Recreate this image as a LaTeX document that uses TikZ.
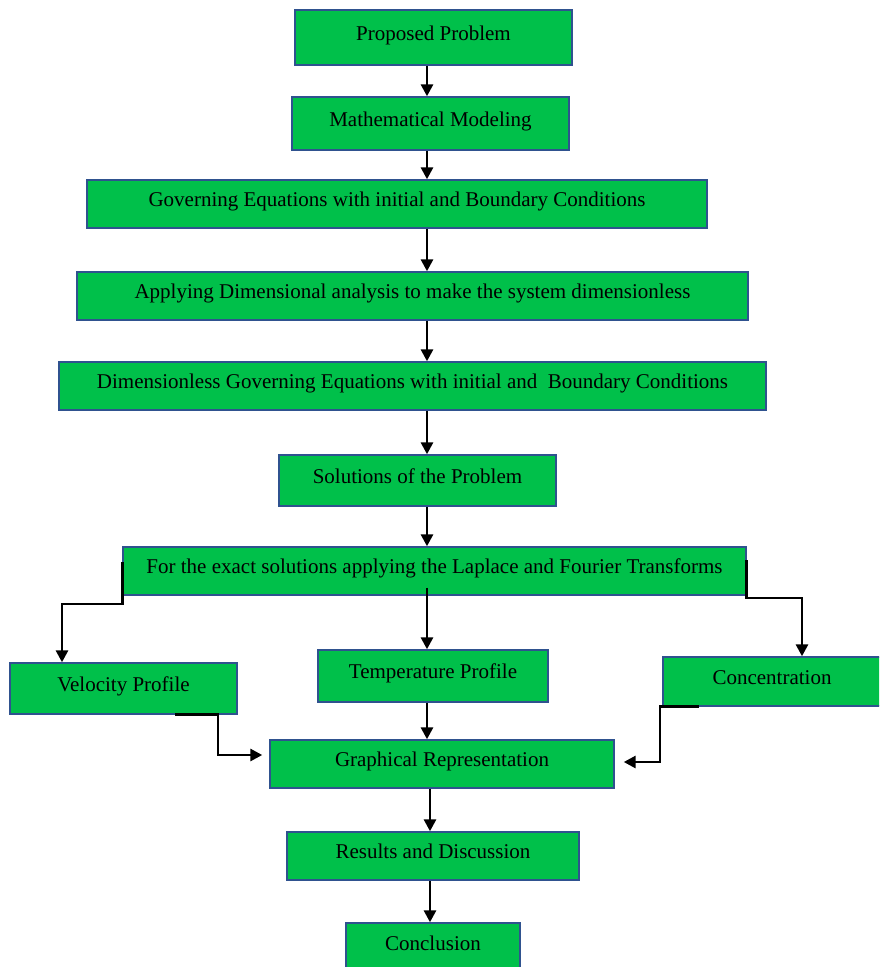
\documentclass[tikz,border=0pt]{standalone}
\usepackage{fontspec}
\setmainfont{Liberation Serif}
\usetikzlibrary{arrows.meta,calc}
\definecolor{boxgreen}{RGB}{0,192,74}
\definecolor{boxedge}{RGB}{47,82,143}
\begin{document}
\begin{tikzpicture}[x=1pt,y=-1pt,
  box/.style={draw=boxedge,line width=1.4pt,fill=boxgreen,inner sep=0pt,
    font=\fontsize{21}{24}\selectfont,text=black,text height=14pt,text depth=9pt},
  arr/.style={draw=black,line width=2.8pt,-{Triangle[width=12pt,length=12pt]}}]
\fill[white] (0,0) rectangle (879,967);
\useasboundingbox (0,0) rectangle (879,967);
\clip (0,0) rectangle (879,967);
\coordinate (cx) at (427,0);
\coordinate (cy) at (430,0);
\node[box,minimum width=277,minimum height=55] (p1) at (433.5,37.5) {Proposed Problem};
\node[box,minimum width=277,minimum height=53] (p2) at (430.5,123.5) {Mathematical Modeling};
\node[box,minimum width=620,minimum height=48] (p3) at (397,204) {Governing Equations with initial and Boundary Conditions};
\node[box,minimum width=671,minimum height=48] (p4) at (412.5,296) {Applying Dimensional analysis to make the system dimensionless};
\node[box,minimum width=707,minimum height=48] (p5) at (412.5,386) {Dimensionless Governing Equations with initial and\ \ Boundary Conditions};
\node[box,minimum width=277,minimum height=51] (p6) at (417.5,480.5) {Solutions of the Problem};
\node[box,minimum width=623,minimum height=48] (p7) at (434.5,571) {For the exact solutions applying the Laplace and Fourier Transforms};
\node[box,minimum width=227,minimum height=51] (vel) at (123.5,688.5) {Velocity Profile};
\node[box,minimum width=230,minimum height=52] (tem) at (433,676) {Temperature Profile};
\node[box,minimum width=218,minimum height=49] (con) at (772,681.5) {Concentration};
\node[box,minimum width=344,minimum height=48] (gra) at (442,764) {Graphical Representation};
\node[box,minimum width=292,minimum height=48] (res) at (433,856) {Results and Discussion};
\node[box,minimum width=174,minimum height=50] (conc) at (433,948) {Conclusion};
% vertical arrows
\draw[arr] (p1.south -| cx) -- (p2.north -| cx);
\draw[arr] (p2.south -| cx) -- (p3.north -| cx);
\draw[arr] (p3.south -| cx) -- (p4.north -| cx);
\draw[arr] (p4.south -| cx) -- (p5.north -| cx);
\draw[arr] (p5.south -| cx) -- (p6.north -| cx);
\draw[arr] (p6.south -| cx) -- (p7.north -| cx);
\draw[arr] ([yshift=8]p7.south -| cx) -- (tem.north -| cx);
\draw[arr] (tem.south -| cx) -- (gra.north -| cx);
\draw[arr] (gra.south -| cy) -- (res.north -| cy);
\draw[arr] (res.south -| cy) -- (conc.north -| cy);
% branches
\draw[arr] ([yshift=9]p7.west) -- ++(0,42) -| ([xshift=-61.5]vel.north);
\draw[arr] ([yshift=11]p7.east) -- ++(0,38) -| ([xshift=30]con.north);
\draw[arr] ([xshift=51.5]vel.south) -- ++(43,0) |- ([xshift=-7,yshift=9]gra.west);
\draw[arr] ([xshift=-73]con.south) -- ++(-39,0) |- ([xshift=9,yshift=2]gra.east);
\end{tikzpicture}
\end{document}
